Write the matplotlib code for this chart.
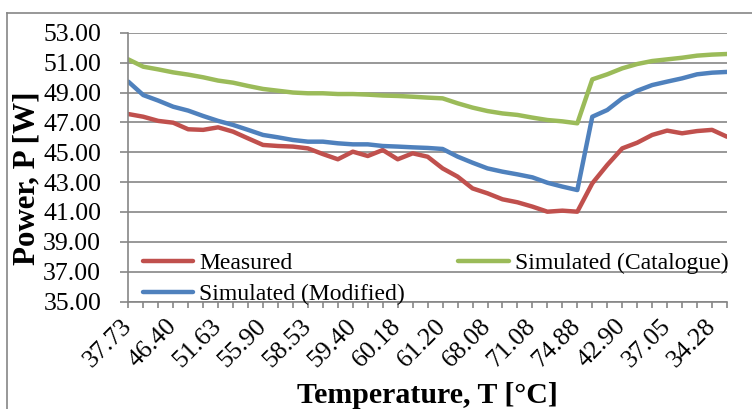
import matplotlib
matplotlib.use("Agg")
import matplotlib.pyplot as plt
from matplotlib.lines import Line2D
from matplotlib.ticker import FixedLocator, FormatStrFormatter
from matplotlib.transforms import ScaledTranslation

tick_labels = ["37.73", "46.40", "51.63", "55.90", "58.53", "59.40", "60.18",
               "61.20", "68.08", "71.08", "74.88", "42.90", "37.05", "34.28"]
y_ticks = [35, 37, 39, 41, 43, 45, 47, 49, 51, 53]

measured = [47.56, 47.38, 47.10, 46.98, 46.54, 46.50, 46.67, 46.38, 45.93, 45.49,
            45.42, 45.38, 45.26, 44.88, 44.53, 45.04, 44.75, 45.15, 44.53, 44.93,
            44.70, 43.92, 43.37, 42.58, 42.25, 41.85, 41.65, 41.36, 41.02, 41.09,
            41.02, 42.92, 44.15, 45.26, 45.64, 46.16, 46.45, 46.27, 46.42, 46.50,
            46.04]
catalogue = [51.22, 50.73, 50.55, 50.35, 50.20, 50.02, 49.80, 49.66, 49.44, 49.24,
             49.12, 49.00, 48.95, 48.95, 48.90, 48.90, 48.86, 48.80, 48.77, 48.72,
             48.66, 48.61, 48.28, 47.99, 47.76, 47.60, 47.50, 47.32, 47.16, 47.07,
             46.94, 49.88, 50.22, 50.62, 50.91, 51.11, 51.22, 51.33, 51.47, 51.54,
             51.58]
modified = [49.73, 48.83, 48.46, 48.05, 47.79, 47.43, 47.10, 46.83, 46.50, 46.16,
            46.00, 45.82, 45.71, 45.71, 45.60, 45.53, 45.53, 45.42, 45.38, 45.33,
            45.29, 45.22, 44.71, 44.30, 43.92, 43.70, 43.52, 43.32, 42.96, 42.70,
            42.47, 47.38, 47.83, 48.61, 49.12, 49.50, 49.73, 49.95, 50.22, 50.33,
            50.38]

plt.rcParams['font.family'] = ['Liberation Serif', 'DejaVu Serif']
FS_TICK = 18.5
FS_LEG = 17
FS_TITLE = 21.5

fig = plt.figure(figsize=(7.52, 4.09), dpi=100)
ax = fig.add_axes([128.3/752, 1-301.6/409, (727-128.3)/752, (301.6-32.8)/409])

x = list(range(len(measured)))
l1, = ax.plot(x, measured, color='#C0504D', lw=3.2, label='Measured', solid_capstyle='round')
l2, = ax.plot(x, catalogue, color='#9BBB59', lw=3.2, label='Simulated (Catalogue)', solid_capstyle='round')
l3, = ax.plot(x, modified, color='#4F81BD', lw=3.2, label='Simulated (Modified)', solid_capstyle='round')

ax.set_xlim(0, len(measured)-1)
ax.set_ylim(35, 53)
ax.yaxis.set_major_locator(FixedLocator(y_ticks))
ax.yaxis.set_major_formatter(FormatStrFormatter('%.2f'))
ax.grid(axis='y', color='#868686', lw=1.2)
ax.set_axisbelow(True)

major_pos = list(range(0, len(measured), 3))[:len(tick_labels)]
ax.xaxis.set_major_locator(FixedLocator(major_pos))
ax.set_xticklabels(tick_labels, rotation=45, ha='right', va='center', rotation_mode='anchor')
ax.xaxis.set_minor_locator(FixedLocator(x))
off = ScaledTranslation(15/100, 0, fig.dpi_scale_trans)
for lab in ax.get_xticklabels():
    lab.set_transform(lab.get_transform() + off)

for s in ['top', 'right']:
    ax.spines[s].set_visible(False)
for s in ['left', 'bottom']:
    ax.spines[s].set_color('#868686')
    ax.spines[s].set_linewidth(1.2)

ax.tick_params(axis='y', which='major', direction='out', length=5.5, width=1.2,
               color='#868686', labelsize=FS_TICK, pad=14)
ax.tick_params(axis='x', which='both', direction='out', length=4, width=1.2,
               color='#868686', labelsize=FS_TICK, pad=11)

ax.set_ylabel('Power, P [W]', fontsize=FS_TITLE + 0.8, fontweight='bold')
ax.yaxis.set_label_coords(-0.145, 0.46)
ax.set_xlabel('Temperature, T [°C]', fontsize=FS_TITLE, fontweight='bold', labelpad=8)

leg = ax.legend(handles=[l1, l3, l2], ncol=2, loc='upper left',
                bbox_to_anchor=(0.024, 0.182), frameon=False, fontsize=FS_LEG,
                borderpad=0, borderaxespad=0, handlelength=2.15, handletextpad=0.25,
                columnspacing=2.25, labelspacing=0.4)

fig.add_artist(Line2D([7/752, 7/752], [0, 1-12.7/409], transform=fig.transFigure,
                      color='#868686', lw=1.2))
fig.add_artist(Line2D([7/752, 1], [1-12.7/409, 1-12.7/409], transform=fig.transFigure,
                      color='#868686', lw=1.2))

fig.savefig('out.png', dpi=100)
